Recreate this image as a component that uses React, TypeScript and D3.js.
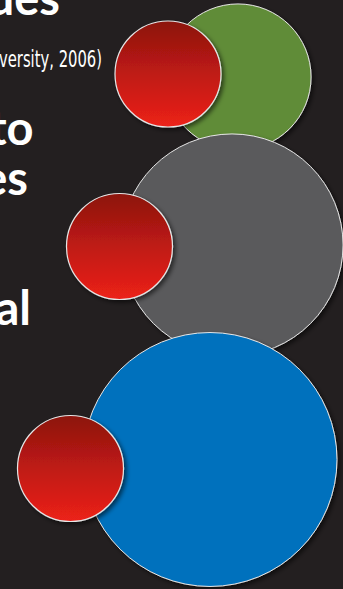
import React from "react";
import * as d3 from "d3";

// ---- data ----
const categories = ["Group A", "Group B", "Group C"];
const referenceValues = [1, 1, 1];
const comparisonValues = [1.9, 4.39, 5.74];
const titleFragments = ["Values", "to", "es", "al"];
const sourceText = "versity, 2006)";

// ---- layout (not data) ----
const W = 343;
const H = 589;
const bigCenters: [number, number][] = [
  [238, 77],
  [232, 245],
  [210, 459.5],
];
const smallCenters: [number, number][] = [
  [168, 74],
  [119.5, 246.5],
  [70.5, 468.5],
];
const bigColors = ["#618c37", "#5a5a5c", "#0071bd"];
const titleLayout = [
  { x: 60, y: 15 },
  { x: 33.5, y: 145 },
  { x: 28, y: 195 },
  { x: 31, y: 325 },
];

export default function App() {
  const r = d3.scaleSqrt().domain([0, 1]).range([0, 53]);
  return (
    <svg
      width={W}
      height={H}
      style={{ position: "absolute", left: 0, top: 0, display: "block" }}
    >
      <defs>
        <linearGradient id="redGrad" x1="0" y1="0" x2="0" y2="1">
          <stop offset="0%" stopColor="#8c130e" />
          <stop offset="50%" stopColor="#bf1b14" />
          <stop offset="100%" stopColor="#ec211a" />
        </linearGradient>
        <filter id="shadow" x="-20%" y="-20%" width="150%" height="150%">
          <feDropShadow dx="2.5" dy="2.5" stdDeviation="2" floodColor="#000" floodOpacity="0.55" />
        </filter>
      </defs>
      <rect width={W} height={H} fill="#231f20" />
      <g fontFamily="Lato, 'Open Sans', sans-serif" fontWeight={700} fill="#ffffff" fontSize={47}>
        {titleFragments.map((t, i) => (
          <text key={i} x={titleLayout[i].x} y={titleLayout[i].y} textAnchor="end">
            {t}
          </text>
        ))}
      </g>
      <text
        x={-1}
        y={67}
        fill="#ffffff"
        fontFamily="'Liberation Sans Narrow', 'DejaVu Sans Condensed', sans-serif"
        fontSize={23}
        textLength={103}
        lengthAdjust="spacingAndGlyphs"
      >
        {sourceText}
      </text>
      {categories.map((c, i) => (
        <g key={c}>
          <circle
            cx={bigCenters[i][0]}
            cy={bigCenters[i][1]}
            r={r(comparisonValues[i])}
            fill={bigColors[i]}
            stroke="#e6e6e6"
            strokeWidth={1}
            filter="url(#shadow)"
          />
          <circle
            cx={smallCenters[i][0]}
            cy={smallCenters[i][1]}
            r={r(referenceValues[i])}
            fill="url(#redGrad)"
            stroke="#e6e6e6"
            strokeWidth={1.2}
            filter="url(#shadow)"
          />
        </g>
      ))}
    </svg>
  );
}
